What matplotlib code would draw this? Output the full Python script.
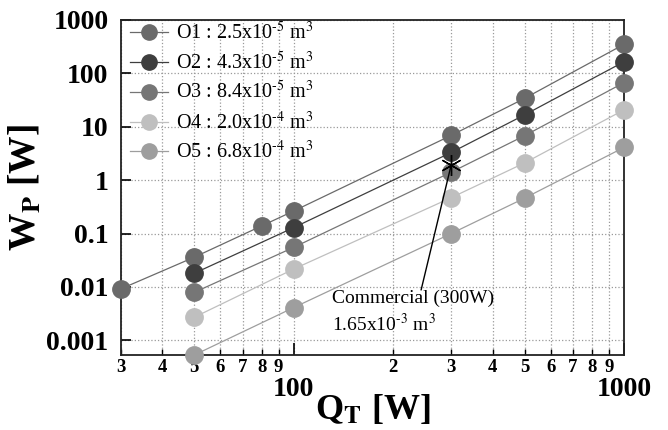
import matplotlib
matplotlib.use("Agg")
import matplotlib.pyplot as plt
from matplotlib.ticker import FixedLocator, FixedFormatter, NullLocator

plt.rcParams['font.family'] = ['Liberation Serif', 'DejaVu Serif']
plt.rcParams['mathtext.fontset'] = 'stix'

# Data
q_o1 = [30, 50, 80, 100, 300, 500, 1000]
w_o1 = [0.0092, 0.036, 0.139, 0.264, 6.9, 34, 350]
q_o = [50, 100, 300, 500, 1000]
w_o2 = [0.018, 0.129, 3.3, 16.7, 165]
w_o3 = [0.0079, 0.055, 1.41, 6.8, 67]
w_o4 = [0.0027, 0.0216, 0.47, 2.1, 20.7]
w_o5 = [0.00053, 0.0041, 0.10, 0.46, 4.1]
labels = [r'O1 : 2.5x10$^{\text{-5}}$ m$^3$', r'O2 : 4.3x10$^{\text{-5}}$ m$^3$',
          r'O3 : 8.4x10$^{\text{-5}}$ m$^3$', r'O4 : 2.0x10$^{\text{-4}}$ m$^3$',
          r'O5 : 6.8x10$^{\text{-4}}$ m$^3$']
colors = ['#6a6a6a', '#3e3e3e', '#767676', '#bfbfbf', '#9e9e9e']
comm_q, comm_w = 300, 1.96
comm_label = 'Commercial (300W)\n' + r'1.65x10$^{\text{-3}}$ m$^3$'

fig = plt.figure(figsize=(6.68, 4.30), dpi=100)
ax = fig.add_axes([0.1811, 0.1744, 0.9341 - 0.1811, 0.9535 - 0.1744])
ax.set_xscale('log')
ax.set_yscale('log')
ax.set_xlim(30, 1000)
ax.set_ylim(5.3e-4, 1000)

series = [(q_o1, w_o1), (q_o, w_o2), (q_o, w_o3), (q_o, w_o4), (q_o, w_o5)]
for (q, w), lab, c in zip(series, labels, colors):
    ax.plot(q, w, '-o', color=c, lw=0.9, ms=12.5, mec=c, mfc=c,
            label=lab, clip_on=False, zorder=3)

ax.plot([comm_q], [comm_w], marker=(6, 2, 0), ms=15, color='black',
        mew=1.0, ls='none', zorder=5)
ax.annotate('', xy=(comm_q, comm_w), xytext=(242, 0.0078),
            arrowprops=dict(arrowstyle='-', color='black', lw=1.0), zorder=5)
ax.text(131, 0.0089, comm_label, ha='left', va='top', fontsize=14,
        linespacing=1.35, zorder=6)

# ticks
ax.xaxis.set_major_locator(FixedLocator([100, 1000]))
ax.xaxis.set_major_formatter(FixedFormatter(['100', '1000']))
minors = [30, 40, 50, 60, 70, 80, 90, 200, 300, 400, 500, 600, 700, 800, 900]
ax.xaxis.set_minor_locator(FixedLocator(minors))
ax.xaxis.set_minor_formatter(FixedFormatter([str(m)[0] for m in minors]))
ax.yaxis.set_major_locator(FixedLocator([0.001, 0.01, 0.1, 1, 10, 100, 1000]))
ax.yaxis.set_major_formatter(FixedFormatter(['0.001', '0.01', '0.1', '1', '10', '100', '1000']))
ax.yaxis.set_minor_locator(NullLocator())

ax.tick_params(axis='x', which='major', direction='in', length=8.5, width=1.2,
               pad=16, labelsize=20)
ax.tick_params(axis='x', which='minor', direction='in', length=4.3, width=1.0,
               pad=3, labelsize=13.5)
ax.tick_params(axis='y', which='major', direction='in', length=7.5, width=1.2,
               pad=9, labelsize=20)
for lab in ax.get_xticklabels(which='both') + ax.get_yticklabels():
    lab.set_fontweight('bold')

ax.grid(True, which='major', axis='y', ls=':', color='#999999', lw=0.9)
ax.grid(True, which='both', axis='x', ls=':', color='#999999', lw=0.9)
ax.set_axisbelow(True)
for s in ax.spines.values():
    s.set_linewidth(1.3)
    s.set_color('#222222')

ax.set_xlabel(r'Q$_{\mathbf{T}}$ [W]', fontsize=26, fontweight='bold', labelpad=-7)
ax.set_ylabel(r'W$_{\mathbf{P}}$ [W]', fontsize=27, fontweight='bold', labelpad=2)

leg = ax.legend(loc='upper left', bbox_to_anchor=(0.011, 1.003), frameon=False,
                fontsize=14.5, handlelength=1.9, handletextpad=0.4,
                labelspacing=0.38, borderaxespad=0.0, borderpad=0.15)
for h in leg.legend_handles:
    h.set_markersize(11)

fig.savefig('out.png', dpi=100)
